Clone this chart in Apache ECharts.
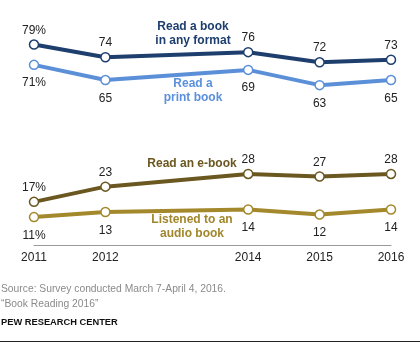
<!DOCTYPE html>
<html><head><meta charset="utf-8">
<script src="https://cdn.jsdelivr.net/npm/echarts@6/dist/echarts.min.js"></script>
<style>html,body{margin:0;padding:0;background:#fff}#c{width:420px;height:344px}</style>
</head><body><div id="c"></div>
<script>
var years = [2011, 2012, 2014, 2015, 2016];
var anyFormat = [79, 74, 76, 72, 73];
var printBook = [71, 65, 69, 63, 65];
var eBook = [17, 23, 28, 27, 28];
var audioBook = [11, 13, 14, 12, 14];
var seriesNames = ['Read a book\nin any format', 'Read a\nprint book', 'Read an e-book', 'Listened to an\naudio book'];
var colors = ['#1e3f6e', '#5b8fd8', '#6a5820', '#a3892c'];
var textColors = ['#1d3e6e', '#5a90dc', '#6a561e', '#a1862b'];

var FONT = '"Liberation Sans", Arial, sans-serif';
function pairs(v){ return years.map(function(y,i){ return [y, v[i]]; }); }
function mk(name, vals, color, pos){
  return {
    type:'line', name:name, data:pairs(vals),
    lineStyle:{color:color, width:4},
    itemStyle:{color:'#fff', borderColor:color, borderWidth:1.5},
    symbol:'circle', symbolSize:9, showAllSymbol:true,
    label:{show:true, position:pos, distance:pos==='top'?3:7, color:'#222', fontSize:12, fontFamily:FONT,
      formatter:function(p){ return p.dataIndex===0 ? p.value[1]+'%' : String(p.value[1]); }},
    emphasis:{disabled:true}, z:3
  };
}
var chart = echarts.init(document.getElementById('c'));
chart.setOption({
  animation:false,
  grid:{left:34, right:29, top:42, bottom:99, containLabel:false},
  xAxis:{type:'value', min:2011, max:2016, interval:1,
    axisLine:{show:true, lineStyle:{color:'#999', width:1}},
    axisTick:{show:false}, splitLine:{show:false},
    axisLabel:{customValues:years, color:'#222', fontSize:12, fontFamily:FONT, margin:7,
      formatter:function(v){return String(v);}}},
  yAxis:{type:'value', min:0, max:80, show:false, splitLine:{show:false}},
  series:[
    mk(seriesNames[0], anyFormat, colors[0], 'top'),
    mk(seriesNames[1], printBook, colors[1], 'bottom'),
    mk(seriesNames[2], eBook, colors[2], 'top'),
    mk(seriesNames[3], audioBook, colors[3], 'bottom')
  ],
  graphic:[
    {type:'text', x:193, y:34, style:{text:seriesNames[0], fill:textColors[0], font:'bold 12px '+FONT, align:'center', verticalAlign:'middle', lineHeight:14}},
    {type:'text', x:193, y:91, style:{text:seriesNames[1], fill:textColors[1], font:'bold 12px '+FONT, align:'center', verticalAlign:'middle', lineHeight:14}},
    {type:'text', x:192, y:164, style:{text:seriesNames[2], fill:textColors[2], font:'bold 12px '+FONT, align:'center', verticalAlign:'middle'}},
    {type:'text', x:192, y:227, style:{text:seriesNames[3], fill:textColors[3], font:'bold 12px '+FONT, align:'center', verticalAlign:'middle', lineHeight:14}},
    {type:'text', x:1, y:289, style:{text:'Source: Survey conducted March 7-April 4, 2016.', fill:'#8a8a8a', font:'10.3px '+FONT, verticalAlign:'middle'}},
    {type:'text', x:1, y:304, style:{text:'\u201cBook Reading 2016\u201d', fill:'#8a8a8a', font:'10.3px '+FONT, verticalAlign:'middle'}},
    {type:'text', x:1, y:322, style:{text:'PEW RESEARCH CENTER', fill:'#111', font:'bold 9.3px '+FONT, verticalAlign:'middle'}},
    {type:'rect', shape:{x:0, y:341, width:420, height:1}, style:{fill:'#222'}}
  ]
});
</script></body></html>
